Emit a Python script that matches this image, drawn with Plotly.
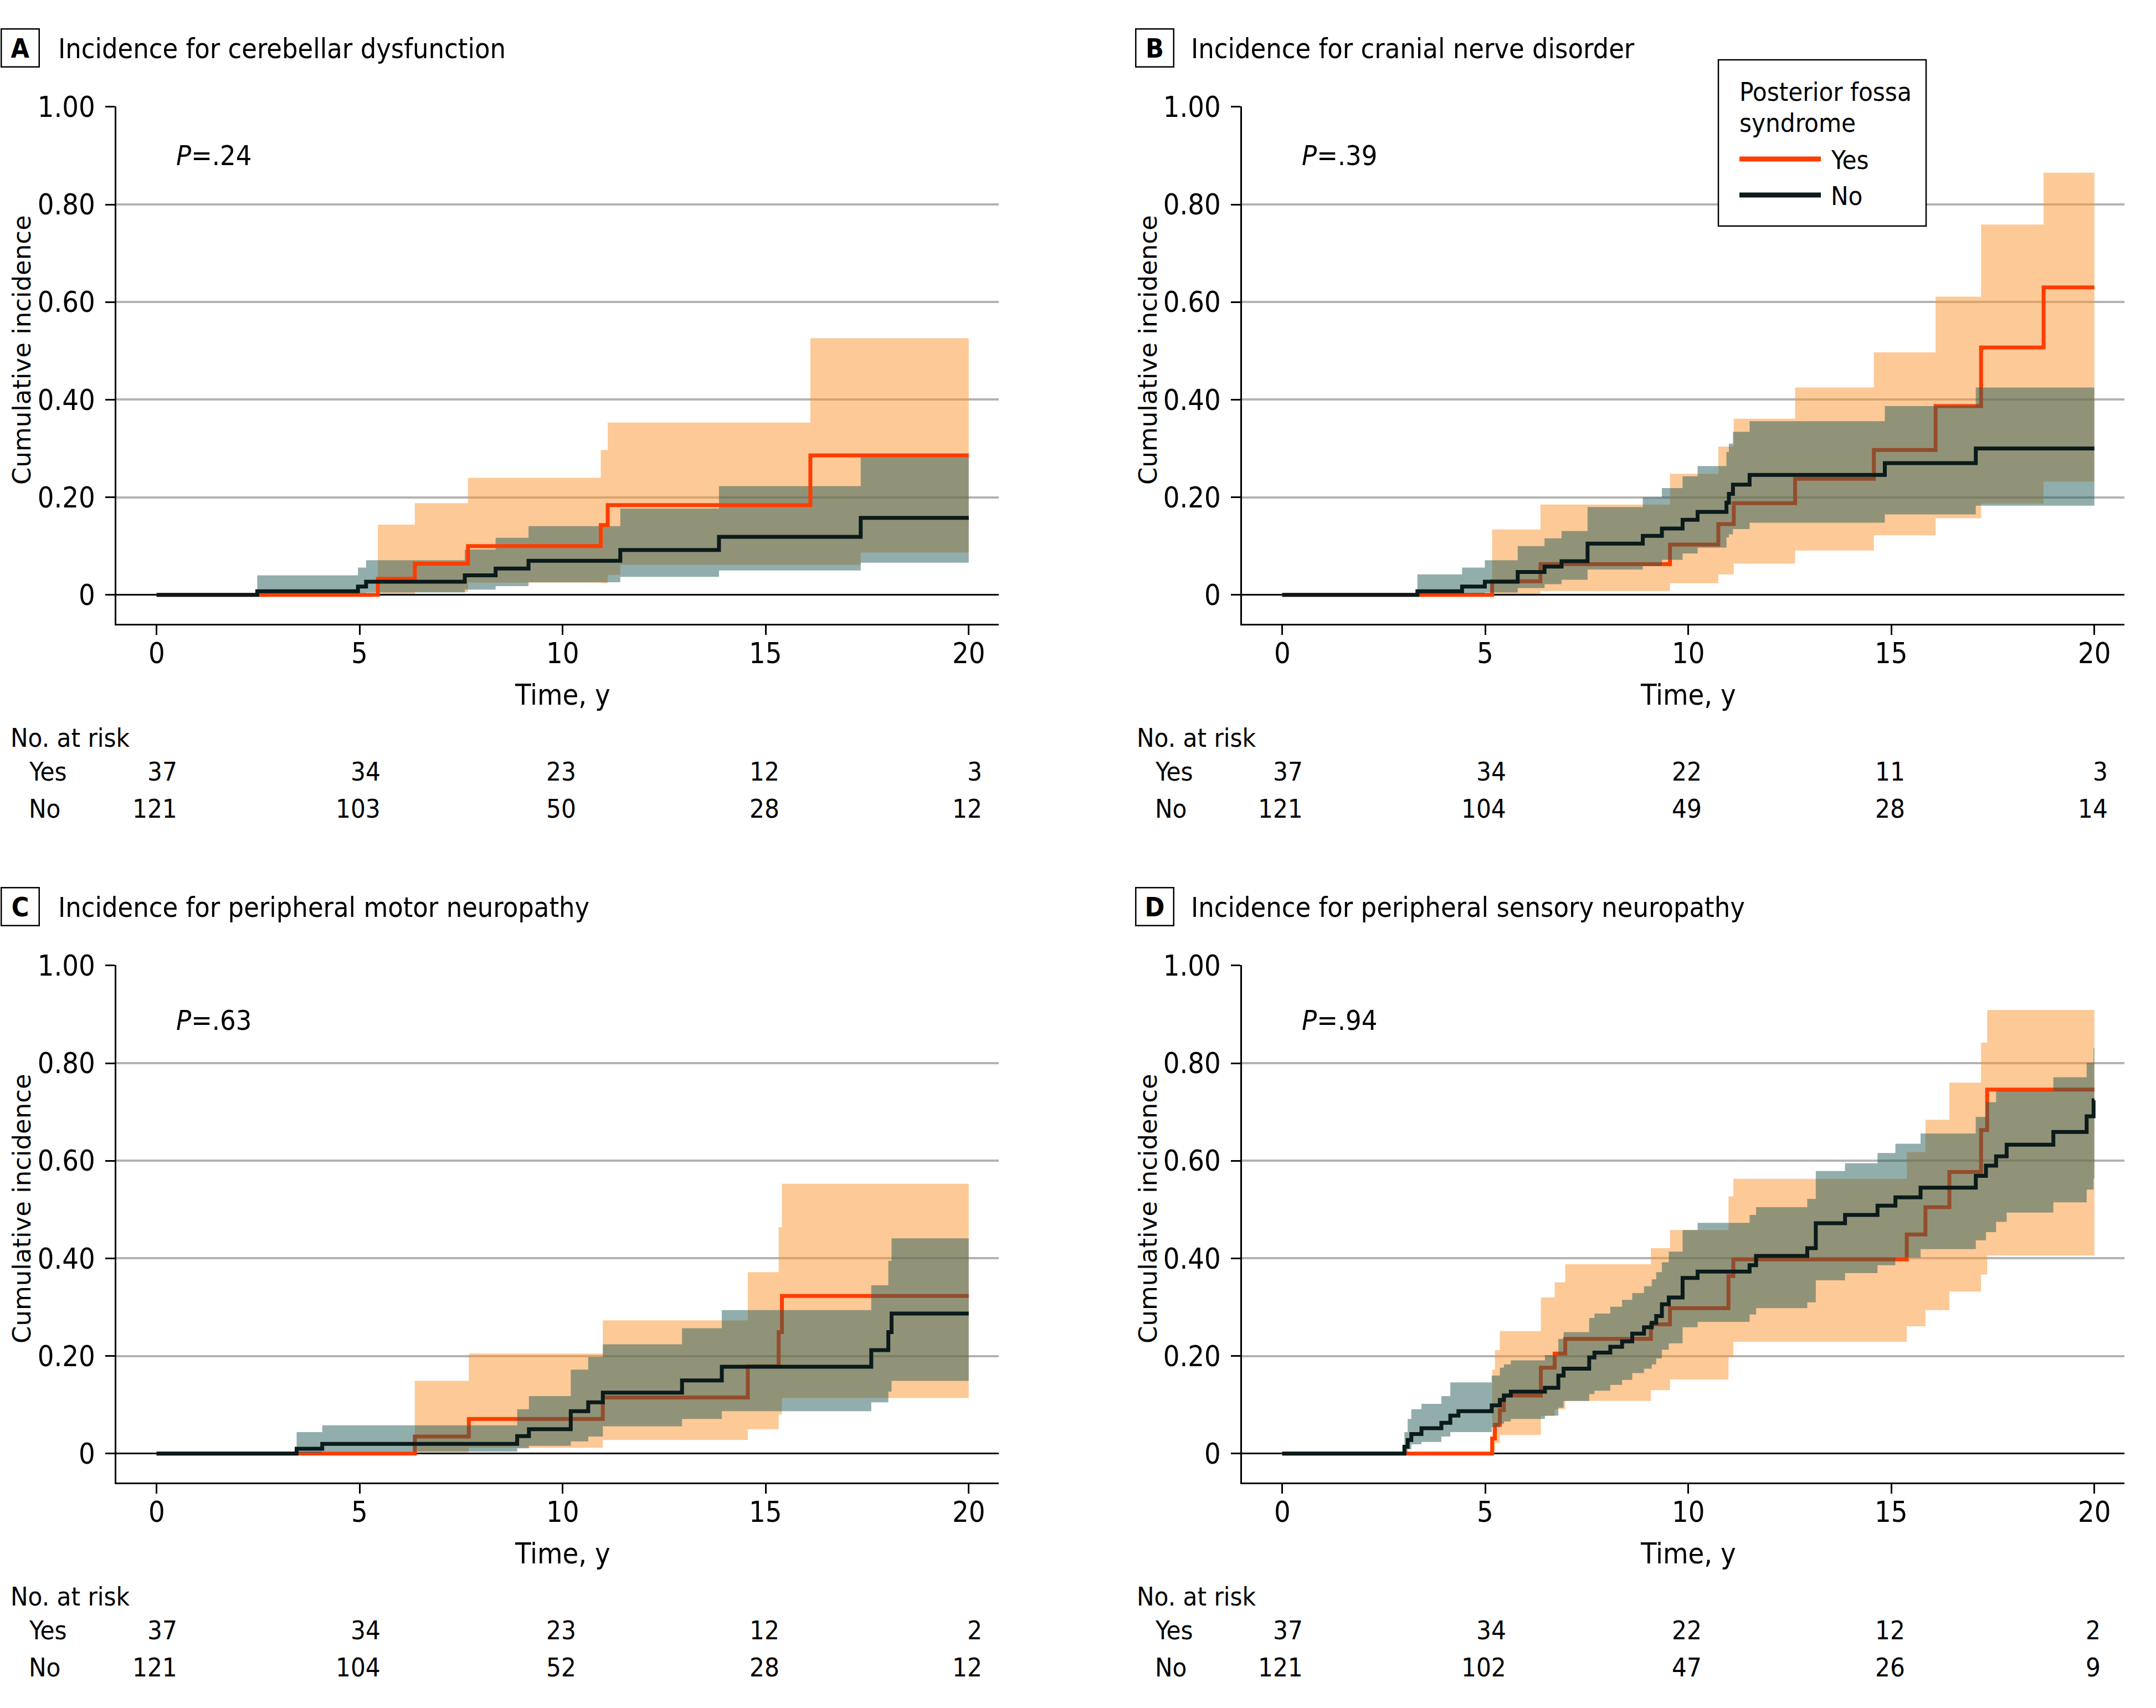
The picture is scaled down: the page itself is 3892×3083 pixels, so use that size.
import plotly.graph_objects as go

W, H = 3892, 3083

# ---------------- DATA ----------------
# Panel A: cerebellar dysfunction
A_yes_t = [0, 5.45, 6.36, 7.67, 10.94, 11.11, 16.10, 20]
A_yes_y = [0, 0.033, 0.064, 0.100, 0.143, 0.184, 0.286, 0.286]
A_yes_ci_t = [5.45, 6.36, 7.67, 10.94, 11.11, 11.42, 16.10, 17.34, 20]
A_yes_lo = [0.002, 0.006, 0.025, 0.024, 0.041, 0.062, 0.062, 0.087, 0.087]
A_yes_hi = [0.144, 0.188, 0.240, 0.297, 0.353, 0.353, 0.526, 0.526, 0.526]
A_no_t = [0, 2.48, 4.96, 5.16, 7.59, 8.35, 9.16, 11.42, 13.85, 17.34, 20]
A_no_y = [0, 0.0075, 0.017, 0.027, 0.040, 0.054, 0.070, 0.092, 0.119, 0.158, 0.158]
A_no_ci_t = [2.48, 4.96, 5.16, 7.59, 8.35, 9.16, 11.42, 13.85, 17.34, 20]
A_no_lo = [0.001, 0.004, 0.005, 0.011, 0.018, 0.026, 0.037, 0.050, 0.066, 0.066]
A_no_hi = [0.040, 0.056, 0.071, 0.093, 0.117, 0.141, 0.177, 0.223, 0.286, 0.286]
A_risk_yes = [37, 34, 23, 12, 3]
A_risk_no = [121, 103, 50, 28, 12]

# Panel B: cranial nerve disorder
B_yes_t = [0, 5.17, 6.36, 9.55, 10.74, 11.12, 12.63, 14.57, 16.09, 17.21, 18.75, 20]
B_yes_y = [0, 0.028, 0.063, 0.103, 0.145, 0.188, 0.238, 0.297, 0.387, 0.507, 0.630, 0.630]
B_yes_ci_t = [5.17, 6.36, 9.55, 10.74, 11.12, 12.63, 14.57, 16.09, 17.21, 18.75, 20]
B_yes_lo = [0.002, 0.008, 0.024, 0.042, 0.064, 0.091, 0.122, 0.157, 0.187, 0.232, 0.232]
B_yes_hi = [0.134, 0.185, 0.248, 0.304, 0.361, 0.425, 0.497, 0.611, 0.759, 0.865, 0.865]
B_no_t = [0, 3.33, 4.43, 4.99, 5.80, 6.46, 6.88, 7.52, 8.88, 9.35, 9.86, 10.23, 10.94, 11.00,
          11.10, 11.51, 14.84, 17.08, 20]
B_no_y = [0, 0.0075, 0.017, 0.027, 0.047, 0.058, 0.069, 0.105, 0.121, 0.136, 0.154, 0.170, 0.189,
          0.207, 0.226, 0.246, 0.270, 0.300, 0.300]
B_no_ci_t = [3.33, 4.43, 4.99, 5.80, 6.46, 6.88, 7.52, 8.88, 9.35, 9.86, 10.23, 10.94, 11.00,
             11.10, 11.51, 14.84, 17.08, 20]
B_no_lo = [0.002, 0.002, 0.005, 0.014, 0.022, 0.031, 0.052, 0.059, 0.072, 0.085, 0.097, 0.118,
           0.124, 0.135, 0.148, 0.165, 0.183, 0.183]
B_no_hi = [0.042, 0.056, 0.071, 0.100, 0.116, 0.131, 0.180, 0.200, 0.219, 0.243, 0.264, 0.293,
           0.310, 0.334, 0.356, 0.387, 0.425, 0.425]
B_risk_yes = [37, 34, 22, 11, 3]
B_risk_no = [121, 104, 49, 28, 14]

# Panel C: peripheral motor neuropathy
C_yes_t = [0, 6.36, 7.69, 10.99, 14.56, 15.32, 15.40, 20]
C_yes_y = [0, 0.035, 0.071, 0.115, 0.179, 0.249, 0.323, 0.323]
C_yes_ci_t = [6.36, 7.69, 10.99, 14.56, 15.32, 15.40, 20]
C_yes_lo = [0.003, 0.012, 0.028, 0.050, 0.080, 0.114, 0.114]
C_yes_hi = [0.149, 0.205, 0.273, 0.372, 0.464, 0.553, 0.553]
C_no_t = [0, 3.45, 4.08, 8.88, 9.17, 10.20, 10.63, 10.99, 12.94, 13.92, 17.60, 18.02, 18.10, 20]
C_no_y = [0, 0.010, 0.020, 0.036, 0.050, 0.087, 0.105, 0.125, 0.150, 0.178, 0.212, 0.249, 0.287, 0.287]
C_no_ci_t = [3.45, 4.08, 8.88, 9.17, 10.20, 10.63, 10.99, 12.94, 13.92, 17.60, 18.02, 18.10, 20]
C_no_lo = [0.001, 0.004, 0.011, 0.016, 0.025, 0.035, 0.056, 0.071, 0.087, 0.105, 0.127, 0.149, 0.149]
C_no_hi = [0.044, 0.058, 0.091, 0.118, 0.172, 0.198, 0.224, 0.257, 0.294, 0.345, 0.395, 0.441, 0.441]
C_risk_yes = [37, 34, 23, 12, 2]
C_risk_no = [121, 104, 52, 28, 12]

# Panel D: peripheral sensory neuropathy
D_yes_t = [0, 5.17, 5.24, 5.36, 5.46, 6.37, 6.71, 6.97, 9.08, 9.55, 10.99, 11.11, 15.38, 15.84,
           16.43, 17.21, 17.36, 20]
D_yes_y = [0, 0.031, 0.059, 0.089, 0.119, 0.176, 0.205, 0.235, 0.265, 0.298, 0.364, 0.398, 0.449,
           0.505, 0.577, 0.663, 0.746, 0.746]
D_yes_ci_t = [5.17, 5.24, 5.36, 6.37, 6.71, 6.97, 9.08, 9.55, 10.99, 11.11, 15.38, 15.84, 16.43,
              17.21, 17.36, 20]
D_yes_lo = [0.005, 0.022, 0.038, 0.077, 0.091, 0.108, 0.130, 0.152, 0.198, 0.229, 0.261, 0.294,
            0.332, 0.367, 0.406, 0.406]
D_yes_hi = [0.172, 0.212, 0.251, 0.320, 0.351, 0.388, 0.421, 0.458, 0.527, 0.563, 0.618, 0.684,
            0.760, 0.842, 0.909, 0.909]
D_no_t = [0, 3.01, 3.09, 3.18, 3.43, 3.92, 4.14, 4.34, 5.16, 5.36, 5.46, 5.63, 6.47, 6.80, 6.93,
          7.56, 7.69, 8.08, 8.37, 8.62, 8.91, 9.10, 9.21, 9.35, 9.52, 9.86, 10.23, 11.51, 11.67,
          12.93, 13.14, 13.86, 14.66, 15.10, 15.72, 17.08, 17.33, 17.58, 17.84, 18.99, 19.81, 19.98, 20]
D_no_y = [0, 0.014, 0.028, 0.040, 0.052, 0.063, 0.078, 0.087, 0.099, 0.110, 0.119, 0.127, 0.135,
          0.160, 0.174, 0.197, 0.207, 0.219, 0.230, 0.246, 0.259, 0.268, 0.282, 0.306, 0.320, 0.360,
          0.373, 0.386, 0.405, 0.421, 0.472, 0.489, 0.508, 0.525, 0.545, 0.569, 0.590, 0.609, 0.633,
          0.659, 0.691, 0.724, 0.724]
D_no_ci_t = D_no_t[1:]
D_no_lo = [0.002, 0.009, 0.019, 0.024, 0.035, 0.044, 0.044, 0.054, 0.061, 0.066, 0.071, 0.078,
           0.094, 0.108, 0.122, 0.129, 0.141, 0.151, 0.165, 0.174, 0.183, 0.195, 0.213, 0.226,
           0.259, 0.270, 0.285, 0.298, 0.310, 0.355, 0.370, 0.386, 0.402, 0.419, 0.437, 0.454,
           0.475, 0.494, 0.515, 0.541, 0.564, 0.564]
D_no_hi = [0.044, 0.071, 0.091, 0.102, 0.118, 0.146, 0.146, 0.160, 0.176, 0.183, 0.191, 0.202,
           0.235, 0.249, 0.278, 0.287, 0.301, 0.315, 0.329, 0.343, 0.357, 0.372, 0.392, 0.414,
           0.458, 0.473, 0.489, 0.505, 0.522, 0.579, 0.595, 0.616, 0.635, 0.656, 0.690, 0.720,
           0.743, 0.743, 0.771, 0.801, 0.831, 0.831]
D_risk_yes = [37, 34, 22, 12, 2]
D_risk_no = [121, 102, 47, 26, 9]

risk_times = [0, 5, 10, 15, 20]
x_ticks = [0, 5, 10, 15, 20]
y_ticks = [0, 0.2, 0.4, 0.6, 0.8, 1.0]
y_ticktext = ["0", "0.20", "0.40", "0.60", "0.80", "1.00"]

panel_letters = ["A", "B", "C", "D"]
panel_titles = ["Incidence for cerebellar dysfunction", "Incidence for cranial nerve disorder",
                "Incidence for peripheral motor neuropathy", "Incidence for peripheral sensory neuropathy"]
p_values = ["<i>P</i>=.24", "<i>P</i>=.39", "<i>P</i>=.63", "<i>P</i>=.94"]
legend_title = ["Posterior fossa", "syndrome"]
group_names = ["Yes", "No"]

# ---------------- STYLE ----------------
ORANGE = "#FF3D00"
DARK = "#0B1A1A"
PEACH = "rgba(249,147,47,0.5)"
TEAL = "rgba(37,93,89,0.5)"
GRID = "#B3B3B3"
FONT = "Liberation Sans Narrow, DejaVu Sans Condensed, Arial Narrow, sans-serif"
YFONT = "DejaVu Sans, Verdana, sans-serif"

def px(x):
    return x / W

def py(y):
    return 1 - y / H

panels = [
    dict(x0=210, x1=1803, y0=192, y1=1126, dx=0, dy=0),
    dict(x0=2242, x1=3835, y0=192, y1=1126, dx=2033, dy=0),
    dict(x0=210, x1=1803, y0=1742, y1=2676, dx=0, dy=1550),
    dict(x0=2242, x1=3835, y0=1742, y1=2676, dx=2033, dy=1550),
]

data = [
    (A_yes_t, A_yes_y, A_yes_ci_t, A_yes_lo, A_yes_hi, A_no_t, A_no_y, A_no_ci_t, A_no_lo, A_no_hi, A_risk_yes, A_risk_no),
    (B_yes_t, B_yes_y, B_yes_ci_t, B_yes_lo, B_yes_hi, B_no_t, B_no_y, B_no_ci_t, B_no_lo, B_no_hi, B_risk_yes, B_risk_no),
    (C_yes_t, C_yes_y, C_yes_ci_t, C_yes_lo, C_yes_hi, C_no_t, C_no_y, C_no_ci_t, C_no_lo, C_no_hi, C_risk_yes, C_risk_no),
    (D_yes_t, D_yes_y, D_yes_ci_t, D_yes_lo, D_yes_hi, D_no_t, D_no_y, D_no_ci_t, D_no_lo, D_no_hi, D_risk_yes, D_risk_no),
]

fig = go.Figure()
annotations = []
shapes = []
layout_axes = {}

for i, (pan, d) in enumerate(zip(panels, data)):
    (yt, yy, yct, ylo, yhi, nt, ny, nct, nlo, nhi, ryes, rno) = d
    suffix = "" if i == 0 else str(i + 1)
    xa, ya = "x" + suffix, "y" + suffix

    def fill_band(t, lo, hi, color):
        fig.add_trace(go.Scatter(x=t, y=lo, mode="lines", line=dict(width=0, shape="hv"),
                                 xaxis=xa, yaxis=ya, showlegend=False, hoverinfo="skip"))
        fig.add_trace(go.Scatter(x=t, y=hi, mode="lines", line=dict(width=0, shape="hv"),
                                 fill="tonexty", fillcolor=color,
                                 xaxis=xa, yaxis=ya, showlegend=False, hoverinfo="skip"))

    def step(t, y, color):
        fig.add_trace(go.Scatter(x=t, y=y, mode="lines", line=dict(width=7, shape="hv", color=color),
                                 xaxis=xa, yaxis=ya, showlegend=False, hoverinfo="skip"))

    if i == 0:
        fill_band(yct, ylo, yhi, PEACH)
        fill_band(nct, nlo, nhi, TEAL)
        step(yt, yy, ORANGE)
        step(nt, ny, DARK)
    else:
        fill_band(yct, ylo, yhi, PEACH)
        step(yt, yy, ORANGE)
        fill_band(nct, nlo, nhi, TEAL)
        step(nt, ny, DARK)

    layout_axes["xaxis" + suffix] = dict(
        domain=[px(pan["x0"]), px(pan["x1"])], range=[-0.99, 20.74], anchor=ya,
        showline=True, linecolor="black", linewidth=2.5, ticks="outside", ticklen=17,
        tickwidth=2.5, tickcolor="black", tickvals=x_ticks, showgrid=False, zeroline=False,
        showticklabels=False, automargin=False, fixedrange=True)
    layout_axes["yaxis" + suffix] = dict(
        domain=[py(pan["y1"]), py(pan["y0"])], range=[-0.0592, 1.001], anchor=xa,
        showline=True, linecolor="black", linewidth=2.5, ticks="outside", ticklen=17,
        tickwidth=2.5, tickcolor="black", tickvals=y_ticks, ticktext=y_ticktext,
        showgrid=True, gridcolor=GRID, gridwidth=4, zeroline=True, zerolinecolor="black",
        zerolinewidth=2.5, tickfont=dict(family=FONT, size=52, color="black"),
        ticklabelstandoff=8, automargin=False, fixedrange=True)

    dx, dy = pan["dx"], pan["dy"]
    # x tick labels
    for v in x_ticks:
        annotations.append(dict(text=str(v), x=v, y=py(1179 + dy), xref=xa, yref="paper",
                                showarrow=False, xanchor="center", yanchor="middle",
                                font=dict(family=FONT, size=52, color="black")))
    # panel letter box
    annotations.append(dict(text="<b>%s</b>" % panel_letters[i], x=px(36 + dx * (2084 - 36) / 2033),
                            y=py(86 + dy), xref="paper", yref="paper", showarrow=False,
                            font=dict(family=FONT, size=48, color="black"), bordercolor="black",
                            borderwidth=2.5, width=66, height=66, borderpad=0,
                            xanchor="center", yanchor="middle"))
    annotations.append(dict(text=panel_titles[i], x=px(103 + dx * (2148 - 103) / 2033), y=py(88 + dy),
                            xref="paper", yref="paper", showarrow=False, xanchor="left", yanchor="middle",
                            font=dict(family=FONT, size=50, color="black")))
    # P value
    annotations.append(dict(text=p_values[i], x=0.45, y=0.90 if i < 2 else 0.887, xref=xa, yref=ya,
                            showarrow=False, xanchor="left", yanchor="middle",
                            font=dict(family=FONT, size=50, color="black")))
    # axis titles
    annotations.append(dict(text="Time, y", x=10, y=py(1254 + dy), xref=xa, yref="paper",
                            showarrow=False, xanchor="center", yanchor="middle",
                            font=dict(family=FONT, size=52, color="black")))
    annotations.append(dict(text="Cumulative incidence", x=px(39 + dx), y=py(632 + dy), xref="paper",
                            yref="paper", showarrow=False, textangle=-90, xanchor="center",
                            yanchor="middle", font=dict(family=YFONT, size=45, color="black")))
    # at-risk table
    annotations.append(dict(text="No. at risk", x=px(17 + dx), y=py(1331 + dy), xref="paper",
                            yref="paper", showarrow=False, xanchor="left", yanchor="middle",
                            font=dict(family=FONT, size=47, color="black")))
    for gname, rowy in zip(group_names, [1392, 1459]):
        annotations.append(dict(text=gname, x=px(50 + dx), y=py(rowy + dy), xref="paper",
                                yref="paper", showarrow=False, xanchor="left", yanchor="middle",
                                font=dict(family=FONT, size=47, color="black")))
    for k, t in enumerate(risk_times):
        maxlen = max(len(str(ryes[k])), len(str(rno[k])))
        for val, rowy in zip([ryes[k], rno[k]], [1392, 1459]):
            annotations.append(dict(text=str(val), x=t, y=py(rowy + dy), xref=xa, yref="paper",
                                    showarrow=False, xanchor="right", yanchor="middle",
                                    xshift=13.3 * maxlen,
                                    font=dict(family=FONT, size=47, color="black")))

# legend (panel B)
shapes.append(dict(type="rect", xref="paper", yref="paper", x0=px(3102), x1=px(3477),
                   y0=py(408), y1=py(108), line=dict(color="black", width=2.5),
                   fillcolor="white", layer="above"))
for line_y, color in zip([287, 352], [ORANGE, DARK]):
    shapes.append(dict(type="line", xref="paper", yref="paper", x0=px(3140), x1=px(3287),
                       y0=py(line_y), y1=py(line_y), line=dict(color=color, width=9), layer="above"))
for txt, ty in zip(legend_title, [166, 221]):
    annotations.append(dict(text=txt, x=px(3138), y=py(ty), xref="paper", yref="paper",
                            showarrow=False, xanchor="left", yanchor="middle",
                            font=dict(family=FONT, size=47, color="black")))
for txt, ty in zip(group_names, [289, 353]):
    annotations.append(dict(text=txt, x=px(3303), y=py(ty), xref="paper", yref="paper",
                            showarrow=False, xanchor="left", yanchor="middle",
                            font=dict(family=FONT, size=47, color="black")))

fig.update_layout(width=W, height=H, margin=dict(l=0, r=0, t=0, b=0, pad=0, autoexpand=False),
                  paper_bgcolor="white", plot_bgcolor="white", showlegend=False,
                  annotations=annotations, shapes=shapes, font=dict(family=FONT, color="black"),
                  **layout_axes)

fig.write_html("out.html",
               post_script="document.body.style.margin='0px';document.body.style.overflow='hidden';")
